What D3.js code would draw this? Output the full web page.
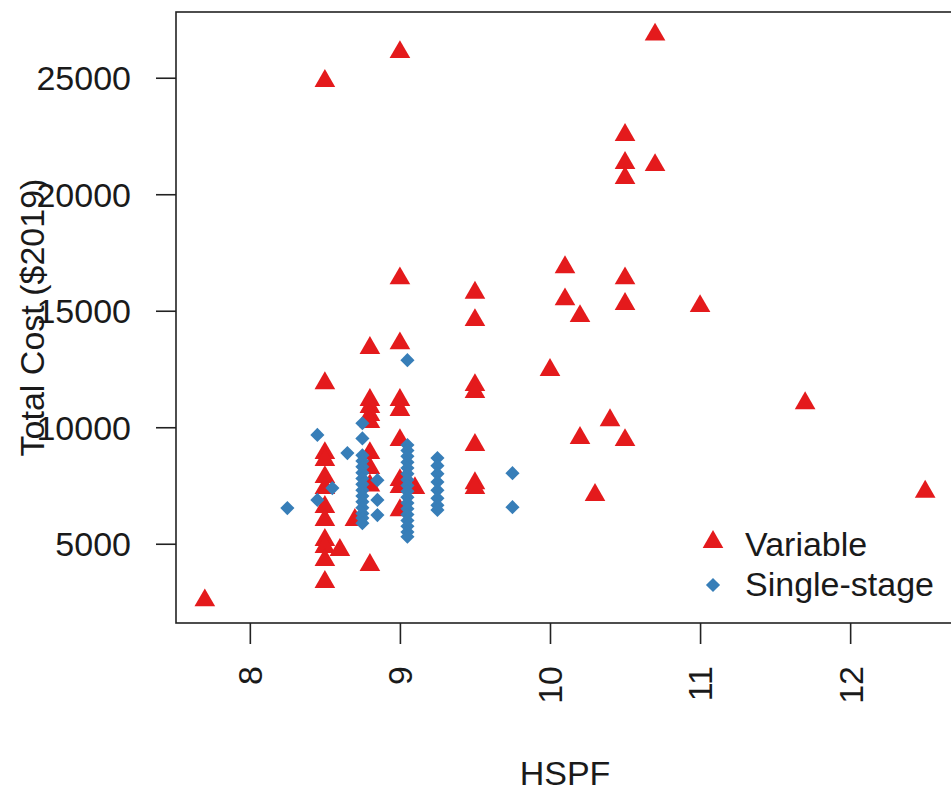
<!DOCTYPE html>
<html>
<head>
<meta charset="utf-8">
<script src="https://cdn.jsdelivr.net/npm/d3@7"></script>
<style>
  body { margin: 0; background: #fff; }
  svg { display: block; font-family: "Liberation Sans", Arial, sans-serif; }
</style>
</head>
<body>
<svg id="chart"></svg>
<script>
// Variable-speed units (red triangles)
const varHSPF = [7.7,
  8.5, 8.5, 8.5, 8.5, 8.5, 8.5, 8.5, 8.5, 8.5, 8.5, 8.5, 8.5,
  8.6, 8.7,
  8.8, 8.8, 8.8, 8.8, 8.8, 8.8, 8.8, 8.8, 8.8,
  9.0, 9.0, 9.0, 9.0, 9.0, 9.0, 9.0, 9.0, 9.0,
  9.1,
  9.5, 9.5, 9.5, 9.5, 9.5, 9.5, 9.5,
  10.0, 10.1, 10.1, 10.2, 10.2, 10.3, 10.4,
  10.5, 10.5, 10.5, 10.5, 10.5, 10.5,
  10.7, 10.7, 11.0, 11.7, 12.5];
const varCost = [2570,
  24860, 11890, 8890, 8590, 7860, 7390, 6575, 6020, 5160, 4860, 4300, 3360,
  4730, 6020,
  13400, 11170, 10870, 10520, 10220, 8890, 8250, 7500, 4090,
  26100, 16390, 13600, 11170, 10740, 9450, 7730, 7430, 6440,
  7390,
  15770, 14600, 11810, 11510, 9240, 7600, 7390,
  12460, 16870, 15490, 14770, 9540, 7090, 10300,
  22540, 21340, 20700, 16390, 15290, 9450,
  26850, 21250, 15200, 11030, 7230];

// Single-stage units (blue diamonds)
const singleHSPF = [8.25, 8.45, 8.45, 8.55, 8.65,
  8.75, 8.75, 8.75, 8.75, 8.75, 8.75, 8.75, 8.75, 8.75, 8.75, 8.75, 8.75, 8.75, 8.75, 8.75,
  8.85, 8.85, 8.85,
  9.05, 9.05, 9.05, 9.05, 9.05, 9.05, 9.05, 9.05, 9.05, 9.05, 9.05, 9.05, 9.05, 9.05, 9.05, 9.05, 9.05, 9.05,
  9.25, 9.25, 9.25, 9.25, 9.25, 9.25, 9.25, 9.25,
  9.75, 9.75];
const singleCost = [6530, 9670, 6880, 7390, 8890,
  10170, 9520, 8800, 8550, 8300, 8050, 7800, 7550, 7300, 7050, 6800, 6550, 6300, 6100, 5880,
  7730, 6880, 6230,
  12880, 9240, 9000, 8750, 8500, 8250, 8000, 7750, 7500, 7250, 7000, 6750, 6500, 6250, 6000, 5750, 5500, 5300,
  8680, 8350, 8000, 7650, 7300, 6950, 6650, 6450,
  8030, 6570];

const xTicks = [8, 9, 10, 11, 12];
const yTicks = [5000, 10000, 15000, 20000, 25000];
const seriesNames = ['Variable', 'Single-stage'];
const seriesColors = ['#E41A1C', '#377EB8'];

const width = 951, height = 793;
const plotLeft = 176, plotTop = 12, plotRight = 954, plotBottom = 623;
const fontSize = 34;

const svg = d3.select('#chart')
  .attr('width', width)
  .attr('height', height);

// R style 4% padding on both axes
function pad(ext) {
  const d = (ext[1] - ext[0]) * 0.04;
  return [ext[0] - d, ext[1] + d];
}
const allX = varHSPF.concat(singleHSPF);
const allY = varCost.concat(singleCost);

const x = d3.scaleLinear().domain(pad(d3.extent(allX))).range([plotLeft, plotRight]);
const y = d3.scaleLinear().domain(pad(d3.extent(allY))).range([plotBottom, plotTop]);

// points: variable first, single-stage on top
const tri = d3.symbol().type(d3.symbolTriangle).size(185);
const dia = d3.symbol().type(d3.symbolSquare).size(100);

svg.append('g')
  .selectAll('path')
  .data(d3.range(varHSPF.length))
  .enter()
  .append('path')
  .attr('d', tri)
  .attr('transform', i => `translate(${x(varHSPF[i])},${y(varCost[i])})`)
  .attr('fill', seriesColors[0]);

svg.append('g')
  .selectAll('path')
  .data(d3.range(singleHSPF.length))
  .enter()
  .append('path')
  .attr('d', dia)
  .attr('transform', i => `translate(${x(singleHSPF[i])},${y(singleCost[i])}) rotate(45)`)
  .attr('fill', seriesColors[1]);

// box
svg.append('rect')
  .attr('x', plotLeft)
  .attr('y', plotTop)
  .attr('width', plotRight - plotLeft)
  .attr('height', plotBottom - plotTop)
  .attr('fill', 'none')
  .attr('stroke', '#222')
  .attr('stroke-width', 1.6);

// x axis, labels perpendicular
const xAxis = svg.append('g')
  .attr('transform', `translate(0,${plotBottom})`)
  .call(d3.axisBottom(x).tickValues(xTicks).tickSize(21).tickFormat(d3.format('d')));
xAxis.select('.domain').remove();
xAxis.selectAll('line').attr('stroke', '#222').attr('stroke-width', 1.6);
xAxis.selectAll('text')
  .attr('transform', 'rotate(-90)')
  .attr('x', -43)
  .attr('y', 0)
  .attr('dy', '0.35em')
  .attr('text-anchor', 'end')
  .attr('fill', '#1a1a1a')
  .style('font-size', fontSize + 'px')
  .style('font-family', '"Liberation Sans", Arial, sans-serif');

// y axis
const yAxis = svg.append('g')
  .attr('transform', `translate(${plotLeft},0)`)
  .call(d3.axisLeft(y).tickValues(yTicks).tickSize(20).tickPadding(25).tickFormat(d3.format('d')));
yAxis.select('.domain').remove();
yAxis.selectAll('line').attr('stroke', '#222').attr('stroke-width', 1.6);
yAxis.selectAll('text')
  .attr('dy', '0.35em')
  .attr('fill', '#1a1a1a')
  .style('font-size', fontSize + 'px')
  .style('font-family', '"Liberation Sans", Arial, sans-serif');

// titles
svg.append('text')
  .attr('x', (plotLeft + plotRight) / 2)
  .attr('y', 785)
  .attr('text-anchor', 'middle')
  .attr('fill', '#1a1a1a')
  .style('font-size', fontSize + 'px')
  .text('HSPF');

svg.append('text')
  .attr('transform', `translate(44,${(plotTop + plotBottom) / 2}) rotate(-90)`)
  .attr('text-anchor', 'middle')
  .attr('fill', '#1a1a1a')
  .style('font-size', fontSize + 'px')
  .text('Total Cost ($2019)');

// legend
const legend = svg.append('g').attr('transform', 'translate(713,544)');
legend.append('path').attr('d', tri).attr('transform', 'translate(0,-2)').attr('fill', seriesColors[0]);
legend.append('path').attr('d', dia).attr('transform', 'translate(0,41) rotate(45)').attr('fill', seriesColors[1]);
legend.selectAll('text')
  .data(seriesNames)
  .enter()
  .append('text')
  .attr('x', 32)
  .attr('y', (d, i) => i * 40)
  .attr('dy', '0.35em')
  .attr('fill', '#1a1a1a')
  .style('font-size', fontSize + 'px')
  .text(d => d);
</script>
</body>
</html>
